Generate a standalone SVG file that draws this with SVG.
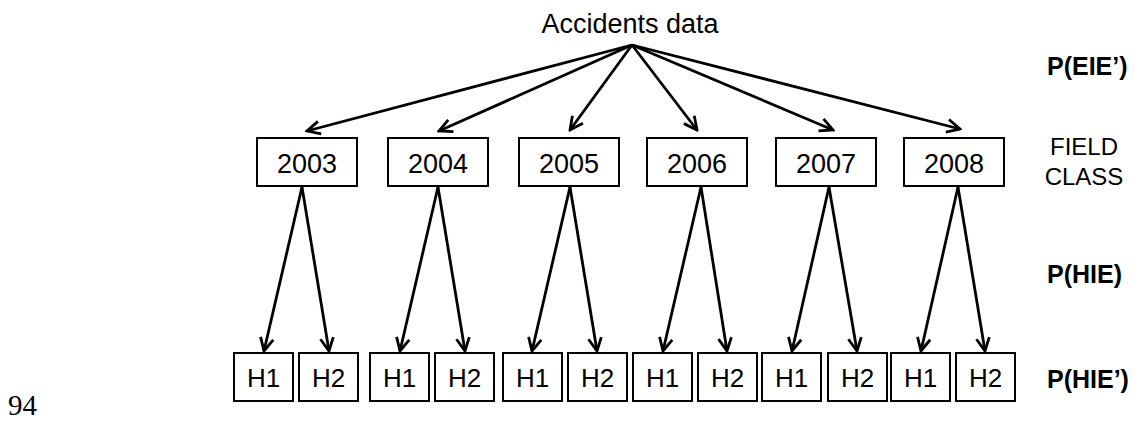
<svg xmlns="http://www.w3.org/2000/svg" width="1134" height="421" viewBox="0 0 1134 421">
<style>
  text { font-family: "Liberation Sans", Arial, sans-serif; fill: #000; }
  .box { fill: #fff; stroke: #000; stroke-width: 2; }
  .lbl { font-size: 27px; text-anchor: middle; }
  .hl { font-size: 26px; text-anchor: middle; }
  .side { font-size: 25px; font-weight: bold; }
  .cls { font-size: 24px; text-anchor: middle; }
  .edge { stroke: #000; stroke-width: 2.8; fill: none; marker-end: url(#arr); }
</style>
<defs>
  <marker id="arr" viewBox="-18 -9 20 18" refX="0" refY="0" markerWidth="20" markerHeight="18" markerUnits="userSpaceOnUse" orient="auto">
    <path d="M-13,-6.5 L0,0 L-13,6.5" fill="none" stroke="#000" stroke-width="2.8" stroke-linejoin="miter"/>
  </marker>
</defs>
<rect width="1134" height="421" fill="#fff"/>

<g id="connectors">
  <line class="edge" x1="632" y1="45" x2="307" y2="131"/>
  <line class="edge" x1="632" y1="45" x2="439" y2="131"/>
  <line class="edge" x1="632" y1="45" x2="570" y2="130"/>
  <line class="edge" x1="632" y1="45" x2="697" y2="130"/>
  <line class="edge" x1="632" y1="45" x2="833" y2="130"/>
  <line class="edge" x1="632" y1="45" x2="960" y2="129"/>

  <line class="edge" x1="302" y1="187" x2="264" y2="351"/>
  <line class="edge" x1="302" y1="187" x2="329" y2="351"/>
  <line class="edge" x1="438" y1="187" x2="400" y2="351"/>
  <line class="edge" x1="438" y1="187" x2="465" y2="351"/>
  <line class="edge" x1="570" y1="187" x2="532" y2="351"/>
  <line class="edge" x1="570" y1="187" x2="597" y2="351"/>
  <line class="edge" x1="701" y1="187" x2="663" y2="351"/>
  <line class="edge" x1="701" y1="187" x2="727" y2="351"/>
  <line class="edge" x1="829" y1="187" x2="792" y2="351"/>
  <line class="edge" x1="829" y1="187" x2="857" y2="351"/>
  <line class="edge" x1="958" y1="187" x2="921" y2="351"/>
  <line class="edge" x1="958" y1="187" x2="985" y2="351"/>
</g>

<g id="root"><text class="lbl" x="630" y="33">Accidents data</text></g>

<g id="y2003"><rect class="box" x="257" y="138" width="100" height="48"/><text class="lbl" x="307" y="173">2003</text></g>
<g id="y2004"><rect class="box" x="388" y="138" width="100" height="48"/><text class="lbl" x="438" y="173">2004</text></g>
<g id="y2005"><rect class="box" x="519" y="138" width="100" height="48"/><text class="lbl" x="569" y="173">2005</text></g>
<g id="y2006"><rect class="box" x="647" y="138" width="100" height="48"/><text class="lbl" x="697" y="173">2006</text></g>
<g id="y2007"><rect class="box" x="776" y="138" width="100" height="48"/><text class="lbl" x="826" y="173">2007</text></g>
<g id="y2008"><rect class="box" x="904" y="138" width="100" height="48"/><text class="lbl" x="954" y="173">2008</text></g>

<g id="h2003a"><rect class="box" x="234" y="353" width="59" height="48"/><text class="hl" x="263.5" y="387">H1</text></g>
<g id="h2003b"><rect class="box" x="299" y="353" width="59" height="48"/><text class="hl" x="328.5" y="387">H2</text></g>
<g id="h2004a"><rect class="box" x="370" y="353" width="59" height="48"/><text class="hl" x="399.5" y="387">H1</text></g>
<g id="h2004b"><rect class="box" x="435" y="353" width="59" height="48"/><text class="hl" x="464.5" y="387">H2</text></g>
<g id="h2005a"><rect class="box" x="503" y="353" width="59" height="48"/><text class="hl" x="532.5" y="387">H1</text></g>
<g id="h2005b"><rect class="box" x="568" y="353" width="59" height="48"/><text class="hl" x="597.5" y="387">H2</text></g>
<g id="h2006a"><rect class="box" x="633" y="353" width="59" height="48"/><text class="hl" x="662.5" y="387">H1</text></g>
<g id="h2006b"><rect class="box" x="698" y="353" width="59" height="48"/><text class="hl" x="727.5" y="387">H2</text></g>
<g id="h2007a"><rect class="box" x="762" y="353" width="59" height="48"/><text class="hl" x="791.5" y="387">H1</text></g>
<g id="h2007b"><rect class="box" x="828" y="353" width="59" height="48"/><text class="hl" x="857.5" y="387">H2</text></g>
<g id="h2008a"><rect class="box" x="891" y="353" width="59" height="48"/><text class="hl" x="920.5" y="387">H1</text></g>
<g id="h2008b"><rect class="box" x="956" y="353" width="59" height="48"/><text class="hl" x="985.5" y="387">H2</text></g>

<g id="labels">
  <text class="side" x="1047" y="75">P(EIE’)</text>
  <text class="cls" x="1084" y="155">FIELD</text>
  <text class="cls" x="1084" y="185">CLASS</text>
  <text class="side" x="1047" y="283">P(HIE)</text>
  <text class="side" x="1047" y="388">P(HIE’)</text>
  <text x="8" y="415" style="font-family: 'Liberation Serif', 'Times New Roman', serif; font-size: 29px;">94</text>
</g>
</svg>
